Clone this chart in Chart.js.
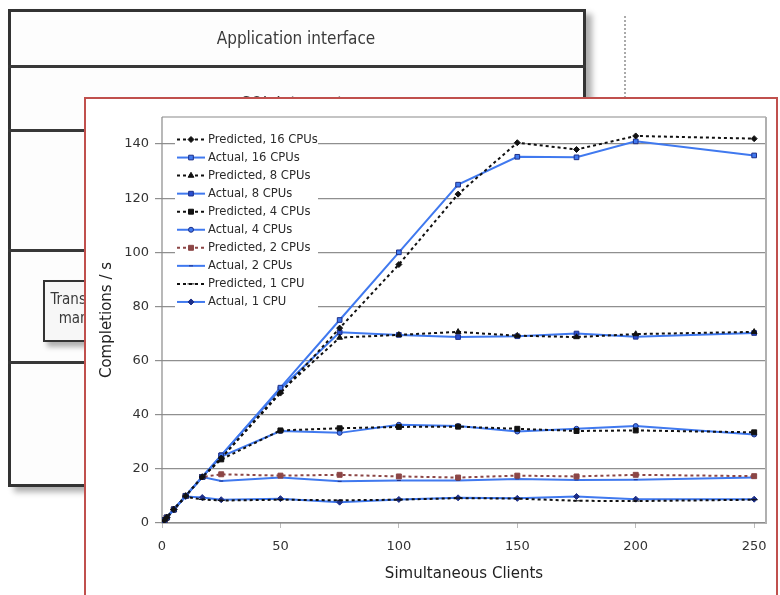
<!DOCTYPE html>
<html><head><meta charset="utf-8">
<script src="https://cdn.jsdelivr.net/npm/chart.js@4.4.1/dist/chart.umd.min.js"></script>
<style>
html,body{margin:0;padding:0;background:#fff;}
#stage{position:relative;width:780px;height:595px;overflow:hidden;background:#fff;}
.bg{position:absolute;box-sizing:border-box;}
#outer{left:8px;top:9px;width:578px;height:478px;border:3px solid #333;background:#fdfdfd;box-shadow:6px 5px 6px rgba(0,0,0,0.32);filter:blur(0.6px);}
.sep{left:8px;width:578px;height:3px;background:#383838;filter:blur(0.6px);}
.bgtxt{font-family:"Liberation Sans Narrow","DejaVu Sans Condensed","Liberation Sans",sans-serif;color:#3a3a3a;text-align:center;filter:blur(0.5px);}
#tm{left:43px;top:280px;width:92px;height:62px;border:2.5px solid #333;background:#f7f7f7;box-shadow:4px 5px 5px rgba(0,0,0,0.3);filter:blur(0.5px);}
#dots{left:624px;top:16px;width:0;height:82px;border-left:2px dotted #aaa;}
#redbox{position:absolute;left:84px;top:97px;width:694px;height:520px;border:2px solid #c0504d;box-sizing:border-box;background:#fff;}
#c{position:absolute;left:0;top:0;}
</style></head><body>
<div id="stage">
  <div class="bg" id="outer"></div>
  <div class="bg sep" style="top:65px"></div>
  <div class="bg sep" style="top:129px"></div>
  <div class="bg sep" style="top:249px"></div>
  <div class="bg sep" style="top:361px"></div>
  <div class="bg bgtxt" style="left:196px;top:28px;width:200px;font-size:17px;line-height:20px;">Application interface</div>
  <div class="bg bgtxt" style="left:200px;top:93px;width:200px;font-size:17px;line-height:20px;">SQL Interpreter</div>
  <div class="bg" id="tm"></div>
  <div class="bg bgtxt" style="left:43px;top:290px;width:92px;font-size:15px;line-height:19px;">Transaction<br>manager</div>
  <div class="bg" id="dots"></div>
  <div id="redbox"></div>
  <canvas id="c" width="780" height="595"></canvas>
</div>
<script>
// ---- data ----
const clients = [1, 2, 5, 10, 17, 25, 50, 75, 100, 125, 150, 175, 200, 250];
const predicted16 = [1, 2, 5, 10, 17, 24, 48, 72, 95.5, 121.5, 140.5, 138, 143, 142];
const actual16    = [1, 2, 5, 10, 17, 25, 50, 75, 100, 125, 135.3, 135.1, 141, 135.8];
const predicted8  = [1, 2, 5, 10, 17, 24, 48.5, 68.5, 69.5, 70.6, 69.2, 68.7, 69.8, 70.6];
const actual8     = [1, 2, 5, 10, 17, 25, 49.5, 70.5, 69.5, 68.7, 69, 70, 68.8, 70.2];
const predicted4  = [1, 2, 5, 10, 17, 23.5, 34.2, 35, 35.5, 35.6, 34.8, 34, 34.2, 33.5];
const actual4     = [1, 2, 5, 10, 17, 24.5, 34, 33.3, 36.3, 35.8, 33.8, 34.8, 35.8, 32.7];
const predicted2  = [1, 2, 5, 10, 17, 18, 17.5, 17.8, 17.2, 16.8, 17.5, 17.2, 17.8, 17.3];
const actual2     = [1, 2, 5, 10, 17, 15.5, 16.8, 15.4, 15.7, 15.7, 16.3, 15.9, 16, 16.8];
const predicted1  = [1, 2, 5, 9.7, 8.7, 8.3, 8.6, 8.4, 8.6, 9.2, 9, 8.2, 8.1, 8.6];
const actual1     = [1, 2, 5, 9.8, 9.4, 8.6, 9, 7.7, 8.7, 9.3, 9.1, 9.8, 8.8, 8.8];
const seriesLabels = ['Predicted, 16 CPUs','Actual, 16 CPUs','Predicted, 8 CPUs','Actual, 8 CPUs',
  'Predicted, 4 CPUs','Actual, 4 CPUs','Predicted, 2 CPUs','Actual, 2 CPUs','Predicted, 1 CPU','Actual, 1 CPU'];
const yTicks = [0, 20, 40, 60, 80, 100, 120, 140];
const xTicks = [0, 50, 100, 150, 200, 250];
const xTitle = 'Simultaneous Clients';
const yTitle = 'Completions / s';

// ---- styles ----
const BLUE = '#4079ef', NAVY = '#1d2f88', BLACK = '#111111', BROWN = '#8c4646';
function pred(color, ps, r) {
  return {borderColor: color, borderWidth: 2, borderDash: [3, 3], pointStyle: ps, pointRadius: r,
    pointBackgroundColor: color, pointBorderColor: color, pointBorderWidth: 1};
}
function act(ps, r, fill) {
  return {borderColor: BLUE, borderWidth: 2, borderDash: [], pointStyle: ps, pointRadius: r,
    pointBackgroundColor: fill || BLUE, pointBorderColor: NAVY, pointBorderWidth: 1};
}
const styles = [
  pred(BLACK, 'rectRot', 3), act('rect', 3.3),
  pred(BLACK, 'triangle', 3.3), act('rect', 3.3, '#2a4fd0'),
  pred(BLACK, 'rect', 3.5), act('circle', 2.5),
  pred(BROWN, 'rect', 3.5), act('line', 2),
  pred(BLACK, 'line', 3.5), act('rectRot', 3, NAVY)
];
const allValues = [predicted16, actual16, predicted8, actual8, predicted4, actual4, predicted2, actual2, predicted1, actual1];
const datasets = allValues.map((vals, i) => Object.assign({
  label: seriesLabels[i],
  data: clients.map((x, j) => ({x: x, y: vals[j]})),
  tension: 0, fill: false
}, styles[i]));

Chart.defaults.font.family = '"DejaVu Sans", sans-serif';
Chart.defaults.color = '#333';

function marker(ctx, ds, x, y) {
  ctx.save();
  ctx.setLineDash([]);
  ctx.fillStyle = ds.pointBackgroundColor;
  ctx.strokeStyle = ds.pointBorderColor;
  ctx.lineWidth = ds.pointBorderWidth;
  if (Chart.helpers && Chart.helpers.drawPoint) {
    Chart.helpers.drawPoint(ctx, {pointStyle: ds.pointStyle, radius: ds.pointRadius, rotation: 0, borderWidth: ds.pointBorderWidth}, x, y);
  } else {
    ctx.beginPath(); ctx.arc(x, y, ds.pointRadius, 0, Math.PI * 2); ctx.fill(); ctx.stroke();
  }
  ctx.restore();
}

const framePlugin = {
  id: 'frame',
  beforeDatasetsDraw(chart) {
    const {ctx, chartArea: a} = chart;
    ctx.save();
    ctx.strokeStyle = '#8a8a8a'; ctx.lineWidth = 1.2;
    ctx.beginPath();
    ctx.moveTo(a.left, a.top); ctx.lineTo(a.left, a.bottom); ctx.lineTo(a.right, a.bottom);
    ctx.moveTo(a.left, a.top); ctx.lineTo(a.right, a.top);
    ctx.stroke();
    ctx.strokeStyle = '#b0b0b0'; ctx.lineWidth = 2;
    ctx.beginPath(); ctx.moveTo(a.right, a.top); ctx.lineTo(a.right, a.bottom + 1); ctx.stroke();
    ctx.restore();
  }
};

const legendPlugin = {
  id: 'boxLegend',
  afterDraw(chart) {
    const {ctx, chartArea: a} = chart;
    const lx = a.left + 13, ly = a.top + 14;
    ctx.save();
    ctx.fillStyle = '#fff';
    ctx.fillRect(lx, ly, 143, 180);
    chart.data.datasets.forEach((ds, i) => {
      const y = ly + 8.5 + i * 18.05;
      ctx.strokeStyle = ds.borderColor; ctx.lineWidth = ds.borderWidth;
      ctx.setLineDash(ds.borderDash || []);
      ctx.beginPath(); ctx.moveTo(lx + 2, y); ctx.lineTo(lx + 30, y); ctx.stroke();
      marker(ctx, ds, lx + 16, y);
      ctx.setLineDash([]);
      ctx.fillStyle = '#2b2b2b';
      ctx.font = '11.6px "DejaVu Sans", sans-serif';
      ctx.textBaseline = 'middle'; ctx.textAlign = 'left';
      ctx.fillText(ds.label, lx + 33, y + 0.5);
    });
    ctx.restore();
  }
};

new Chart(document.getElementById('c'), {
  type: 'line',
  data: {datasets: datasets},
  options: {
    responsive: false, animation: false, devicePixelRatio: 1,
    layout: {padding: {left: 86, top: 117, right: 14, bottom: 0}},
    plugins: {legend: {display: false}, tooltip: {enabled: false}},
    elements: {line: {tension: 0}},
    scales: {
      x: {
        type: 'linear', min: 0, max: 255,
        afterFit(s) { s.height = 72; },
        afterBuildTicks(s) { s.ticks = xTicks.map(v => ({value: v})); },
        border: {display: false},
        grid: {drawOnChartArea: false, drawTicks: true, tickLength: 5, tickColor: '#bbbbbb'},
        ticks: {autoSkip: false, maxRotation: 0, padding: 11, font: {size: 13}, color: '#333'},
        title: {display: true, text: xTitle, font: {size: 15}, color: '#222', padding: {top: 0, bottom: 11.5}}
      },
      y: {
        type: 'linear', min: 0, max: 150,
        afterFit(s) { s.width = 76; },
        afterBuildTicks(s) { s.ticks = yTicks.map(v => ({value: v})); },
        border: {display: false},
        grid: {color: '#8f8f8f', lineWidth: 1.2, drawTicks: true, tickLength: 7, tickColor: '#8f8f8f'},
        ticks: {padding: 6, font: {size: 13}, color: '#333'},
        title: {display: true, text: yTitle, font: {size: 15}, color: '#222', padding: {top: 12, bottom: 0}}
      }
    }
  },
  plugins: [framePlugin, legendPlugin]
});
</script>
</body></html>
